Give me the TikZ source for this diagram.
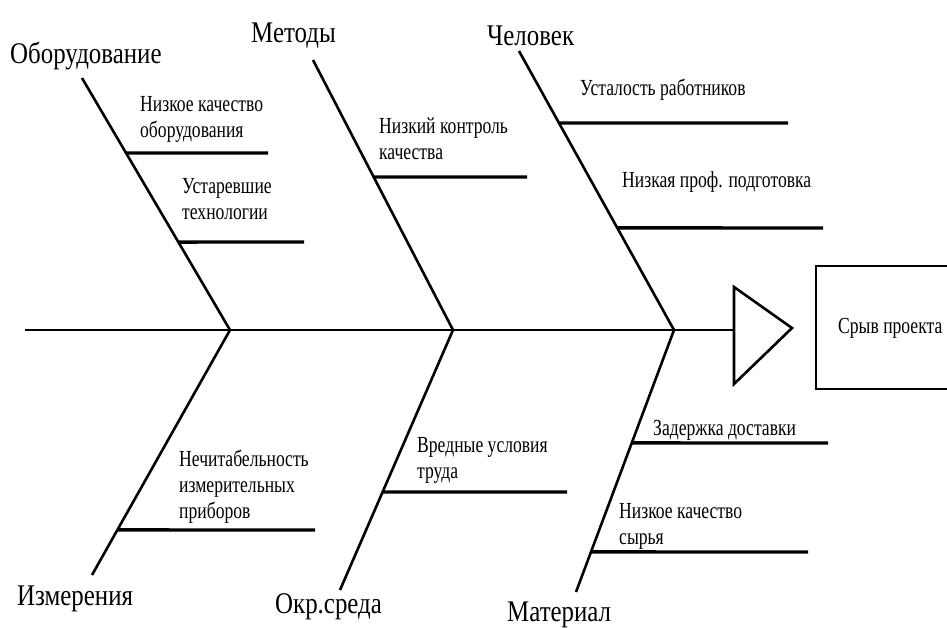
\documentclass[tikz,border=0pt]{standalone}
\usepackage{fontspec}
\setmainfont{Liberation Serif}[FakeStretch=0.765]
\newfontfamily\catfont{Liberation Serif}[FakeStretch=0.83]
\usetikzlibrary{calc}
\begin{document}
\begin{tikzpicture}[x=1pt,y=-1pt,
  bone/.style={line width=2.6pt},
  subbone/.style={line width=3.4pt},
  lbl/.style={font=\catfont\fontsize{30}{33}\selectfont, inner sep=0pt, anchor=base west},
  cause/.style={font=\fontsize{23}{26}\selectfont, inner sep=0pt, align=left, anchor=base west}]
\useasboundingbox (0,0) rectangle (947,627);
% spine
\coordinate (S0) at (25,330);
\coordinate (J1) at (230,330);
\coordinate (J2) at (453,330);
\coordinate (J3) at (674,330);
\coordinate (T1) at (734,287);
\coordinate (T2) at (734,384);
\coordinate (T3) at (792,328);
\coordinate (TS) at (734,330);
\draw[bone] (S0) -- (TS);
\draw[bone, line join=miter] (T1) -- (T3) -- (T2) -- cycle;
% effect box
\draw[bone] (816,266) rectangle (950,389);
\node[cause] (eff) at (838,333) {Срыв проекта};
% bone ends
\coordinate (U1) at (82,78);
\coordinate (U2) at (313,60);
\coordinate (U3) at (519,51);
\coordinate (L1) at (92,575);
\coordinate (L2) at (340,590);
\coordinate (L3) at (576,592);
\draw[bone] (U1) -- (J1);
\draw[bone] (U2) -- (J2);
\draw[bone] (U3) -- (J3);
\draw[bone] (J1) -- (L1);
\draw[bone] (J2) -- (L2);
\draw[bone] (J3) -- (L3);
% category labels
\node[lbl] (c1) at (10,63) {Оборудование};
\node[lbl] (c2) at (251,42) {Методы};
\node[lbl] (c3) at (487,45) {Человек};
\node[lbl] (c4) at (17,605) {Измерения};
\node[lbl] (c5) at (275,613) {Окр.среда};
\node[lbl] (c6) at (507,621) {Материал};
% sub-bones
\coordinate (a1) at ($(U1)!0.2976!(J1)$);
\coordinate (a1e) at (268,153);
\coordinate (a2) at ($(U1)!0.651!(J1)$);
\coordinate (a2e) at (304,242);
\coordinate (b1) at ($(U2)!0.4333!(J2)$);
\coordinate (b1e) at (527,177);
\coordinate (d1) at ($(U3)!0.258!(J3)$);
\coordinate (d1e) at (788,123);
\coordinate (d2) at ($(U3)!0.634!(J3)$);
\coordinate (d2e) at (823,228);
\coordinate (e1) at ($(J1)!0.816!(L1)$);
\coordinate (e1e) at (315,530);
\coordinate (f1) at ($(J2)!0.623!(L2)$);
\coordinate (f1e) at (567,492);
\coordinate (g1) at ($(J3)!0.431!(L3)$);
\coordinate (g1e) at (828,443);
\coordinate (g2) at ($(J3)!0.847!(L3)$);
\coordinate (g2e) at (808,552);
\foreach \s in {a1,a2,b1,d1,d2,e1,f1,g1,g2}{\draw[subbone] (\s) -- (\s e);}
% causes (base = baseline of last line)
\node[cause] (t1) at (140,137) {Низкое качество\\оборудования};
\node[cause] (t2) at (182,219) {Устаревшие\\технологии};
\node[cause] (t3) at (379,159) {Низкий контроль\\качества};
\node[cause] (t4) at (580,95) {Усталость работников};
\node[cause] (t5) at (622,187) {Низкая проф. подготовка};
\node[cause] (t6) at (179,518) {Нечитабельность\\измерительных\\приборов};
\node[cause] (t7) at (417,478) {Вредные условия\\труда};
\node[cause] (t8) at (653,435) {Задержка доставки};
\node[cause] (t9) at (619,544) {Низкое качество\\сырья};
\end{tikzpicture}
\end{document}
